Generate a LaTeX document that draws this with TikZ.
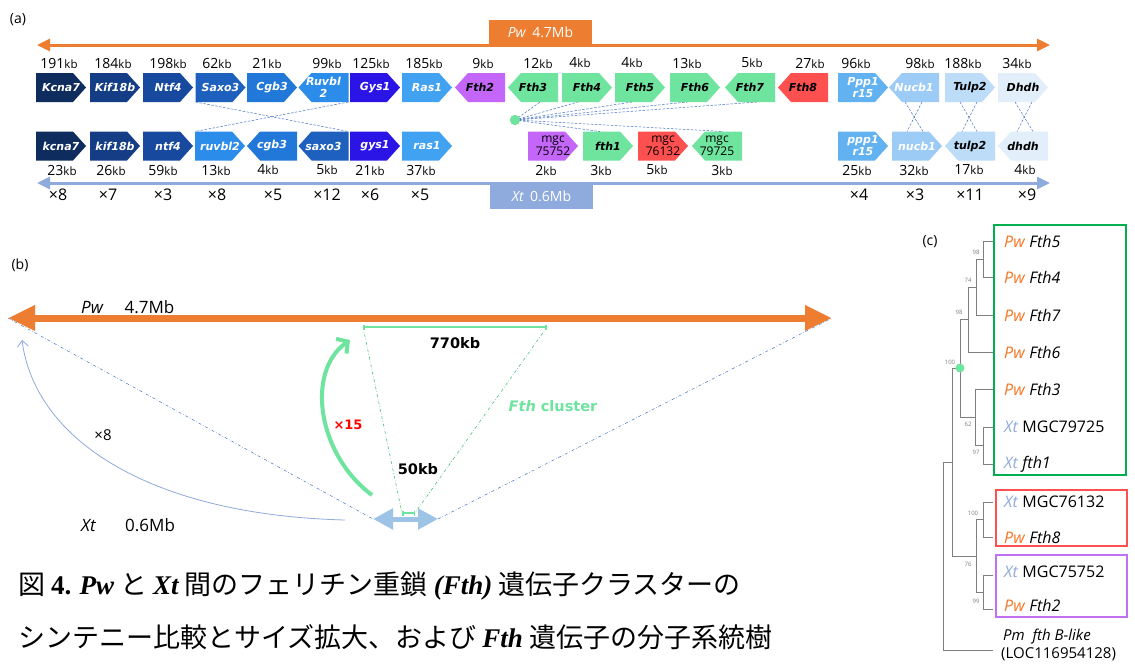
\documentclass[tikz,border=0pt]{standalone}
\usepackage{fontspec}
\setmainfont{Open Sans}
\newfontfamily\genefont{DejaVu Sans}
\newfontfamily\cjkfont{Noto Sans CJK JP}
\newfontfamily\tnrfont{Liberation Serif}
\usetikzlibrary{arrows.meta,calc}
\definecolor{orng}{HTML}{ED7D31}
\definecolor{xtb}{HTML}{8FAADC}
\definecolor{cA}{HTML}{0E2D5E}
\definecolor{cB}{HTML}{143D85}
\definecolor{cC}{HTML}{174A9E}
\definecolor{cD}{HTML}{1E60BE}
\definecolor{cE}{HTML}{2278D8}
\definecolor{cF}{HTML}{2C8CEA}
\definecolor{cG}{HTML}{2A14E6}
\definecolor{cH}{HTML}{42A2F2}
\definecolor{cI}{HTML}{62B2F2}
\definecolor{cJ}{HTML}{9CCBF6}
\definecolor{cK}{HTML}{BCDCF8}
\definecolor{cL}{HTML}{E2EFFB}
\definecolor{gpur}{HTML}{C566FA}
\definecolor{ggrn}{HTML}{6EE49E}
\definecolor{dgrn}{HTML}{4CC47E}
\definecolor{gred}{HTML}{FF5050}
\definecolor{bgrn}{HTML}{00B050}
\definecolor{lblue}{HTML}{9DC3E6}
\definecolor{dblue}{HTML}{4472C4}
\definecolor{pwo}{HTML}{F5741F}
\definecolor{grayline}{HTML}{7F7F7F}
\definecolor{ppur}{HTML}{C070F0}
\newcommand\kbu{{\fontsize{11.5}{12}\selectfont kb}}
\newcommand\PWt{\textcolor{pwo}{\textit{Pw}}}
\newcommand\XTt{\textcolor{xtb}{\textit{Xt}}}
\newcommand\genefill[4]{\fill[#4, shift={(#1,#2)}, xscale=#3] (-25,-14.5) -- (12,-14.5) -- (25,0) -- (12,14.5) -- (-25,14.5) -- cycle;}
\tikzset{
 gene/.style={rectangle, minimum width=50pt, minimum height=29pt, inner sep=0pt, outer sep=0pt, align=center,
   font=\genefont\bfseries\itshape\fontsize{11}{12}\selectfont},
 mgcg/.style={gene, font=\fontsize{12}{12.5}\selectfont},
 kbl/.style={font=\fontsize{14}{16}\selectfont, inner sep=0pt},
 mult/.style={font=\fontsize{16}{18}\selectfont, inner sep=0pt},
 syn/.style={dblue, line width=0.5pt, dash pattern=on 2.5pt off 1.5pt},
 tree/.style={grayline, line width=1pt},
 boot/.style={font=\fontsize{6}{7}\selectfont, text=grayline, inner sep=0pt},
 leaf/.style={anchor=west, inner sep=0pt, font=\fontsize{16}{18}\selectfont},
 boldlab/.style={font=\genefont\bfseries\fontsize{14.5}{16}\selectfont, inner sep=0pt},
 plab/.style={font=\fontsize{14}{16}\selectfont, inner sep=0pt},
 caption/.style={anchor=west, inner sep=0pt, font=\cjkfont\fontsize{27}{30}\selectfont}
}
\begin{document}
\begin{tikzpicture}[x=1pt,y=-1pt]
\fill[white] (0,0) rectangle (1135,664);
\useasboundingbox (0,0) rectangle (1135,664);
% ================= panel (a)
\node[plab] (la) at (18,20) {(a)};
\coordinate (oL) at (37,45);
\coordinate (oR) at (1050,45);
\draw[orng, line width=3pt, {Triangle[length=13pt,width=12pt]}-{Triangle[length=13pt,width=12pt]}] (oL) -- (oR);
\node[fill=orng, text=white, minimum width=103pt, minimum height=25pt, inner sep=0pt, font=\fontsize{14}{16}\selectfont] (pwbox) at (540.5,32.5) {\textit{Pw}\hspace{6pt}4.7Mb};
\coordinate (xL) at (37,183);
\coordinate (xR) at (1050,183);
\draw[xtb, line width=3pt, {Triangle[length=13pt,width=12pt]}-{Triangle[length=13pt,width=12pt]}] (xL) -- (xR);
\node[fill=xtb, text=white, minimum width=103pt, minimum height=26pt, inner sep=0pt, font=\fontsize{14}{16}\selectfont] (xtbox) at (541.5,196) {\textit{Xt}\hspace{6pt}0.6Mb};
% top genes
\foreach \n/\x/\d/\c/\t/\lab in {
 TKcna7/61/1/cA/white/Kcna7, TKif18b/115/1/cB/white/Kif18b, TNtf4/168/1/cC/white/Ntf4,
 TSaxo3/220.5/1/cD/white/Saxo3, TCgb3/272/1/cE/white/Cgb3, TRuvbl2/323.5/-1/cF/white/{Ruvbl\\2},
 TGys1/375/1/cG/white/Gys1, TRas1/427/1/cH/white/Ras1, TFth2/480/-1/gpur/black/Fth2,
 TFth3/533/-1/ggrn/black/Fth3, TFth4/587/1/ggrn/black/Fth4, TFth5/640/1/ggrn/black/Fth5,
 TFth6/695/1/ggrn/black/Fth6, TFth7/750/-1/ggrn/black/Fth7, TFth8/803/-1/gred/black/Fth8,
 TPpp/863/1/cI/white/{Ppp1\\r15}, TNucb1/914/-1/cJ/white/Nucb1, TTulp2/970/1/cK/black/Tulp2,
 TDhdh/1023/1/cL/black/Dhdh}
 {\genefill{\x}{87.5}{\d}{\c}
  \node[gene, text=\t] (\n) at (\x,87.5) {\lab};}
% bottom genes
\foreach \n/\x/\d/\c/\t/\lab in {
 Bkcna7/61/1/cA/white/kcna7, Bkif18b/115/1/cB/white/kif18b, Bntf4/168/1/cC/white/ntf4,
 Bruvbl2/220/1/cF/white/ruvbl2, Bcgb3/272/-1/cE/white/cgb3, Bsaxo3/323.5/-1/cD/white/saxo3,
 Bgys1/375/1/cG/white/gys1, Bras1/427/1/cH/white/ras1, Bfth1/608/1/ggrn/black/fth1,
 Bppp/863/1/cI/white/{ppp1\\r15}, Bnucb1/917/1/cJ/white/nucb1, Btulp2/970/-1/cK/black/tulp2,
 Bdhdh/1023/-1/cL/black/dhdh}
 {\genefill{\x}{146}{\d}{\c}
  \node[gene, text=\t] (\n) at (\x,146) {\lab};}
\foreach \n/\x/\d/\c/\lab in {Bm75752/553/1/gpur/{mgc\\75752}, Bm76132/663/1/gred/{mgc\\76132}, Bm79725/717/-1/ggrn/{mgc\\79725}}
 {\genefill{\x}{146}{\d}{\c}
  \node[mgcg, text=black] (\n) at (\x,146) {\lab};}
% kb labels
\foreach \x/\v [count=\i] in {59/191, 113/184, 168/198, 217/62, 267/21, 327/99, 371/125, 424/185, 483/9, 538/12, 580/4, 632/4, 687/13, 752/5, 810/27, 856/96, 920/98, 963/188, 1017/34}
 \node[kbl] (kt\i) at (\x,63) {\v\kbu};
\foreach \x/\v [count=\i] in {62/23, 111/26, 163/59, 216/13, 268/4, 327/5, 370/21, 421/37, 546/2, 601/3, 657/5, 722/3, 857/25, 914/32, 969/17, 1025/4}
 \node[kbl] (kb\i) at (\x,170) {\v\kbu};
\foreach \x/\v [count=\i] in {58/8, 108/7, 163/3, 217/8, 273/5, 327/12, 370/6, 420/5, 859/4, 915/3, 970/11, 1027/9}
 \node[mult] (mx\i) at (\x,195) {×\v};
% synteny lines
\draw[syn] (TSaxo3.south west) -- (Bsaxo3.north east);
\draw[syn] (TRuvbl2.south east) -- (Bruvbl2.north west);
\node[circle, fill=ggrn, minimum size=10pt, inner sep=0pt] (fdot) at (515,120) {};
\draw[syn] (fdot.center) -- ([xshift=7pt]TFth3.south);
\draw[syn] (fdot.center) -- ([xshift=-9pt]TFth4.south);
\draw[syn] (fdot.center) -- ([xshift=-8pt]TFth5.south);
\draw[syn] (fdot.center) -- ([xshift=-8pt]TFth6.south);
\draw[syn] (fdot.center) -- ([xshift=7pt]TFth7.south);
\draw[syn] (fdot.center) -- ([xshift=-8pt]Bfth1.north);
\draw[syn] (fdot.center) -- ([xshift=6pt]Bm79725.north);
\node[circle, fill=ggrn, minimum size=10pt, inner sep=0pt] (fdot2) at (fdot) {};
\draw[syn] ([xshift=-9pt]TNucb1.south) -- ([xshift=6pt]Bnucb1.north);
\draw[syn] ([xshift=8pt]TNucb1.south) -- ([xshift=-10pt]Bnucb1.north);
\draw[syn] ([xshift=-10pt]TTulp2.south) -- ([xshift=7pt]Btulp2.north);
\draw[syn] ([xshift=7pt]TTulp2.south) -- ([xshift=-8pt]Btulp2.north);
\draw[syn] ([xshift=-8pt]TDhdh.south) -- ([xshift=10pt]Bdhdh.north);
\draw[syn] ([xshift=9pt]TDhdh.south) -- ([xshift=-6pt]Bdhdh.north);
% ================= panel (b)
\node[plab] (lb) at (20,265) {(b)};
\coordinate (bL) at (8,318);
\coordinate (bR) at (832,318);
\coordinate (sL) at (373,519);
\coordinate (sR) at (438,519);
\draw[dblue, line width=0.5pt, dash dot] (bL) -- (sL);
\draw[dblue, line width=0.5pt, dash dot] (sR) -- (bR);
\draw[orng, line width=7pt, {Triangle[length=27pt,width=24pt]}-{Triangle[length=27pt,width=24pt]}] (bL) -- (bR);
\draw[lblue, line width=5pt, {Triangle[length=20pt,width=20pt]}-{Triangle[length=20pt,width=20pt]}] (sL) -- (sR);
\coordinate (gT1) at (363,327);
\coordinate (gT2) at (547,327);
\coordinate (gB1) at (402,513);
\coordinate (gB2) at (415,513);
\draw[dgrn, line width=0.6pt, dash dot] (gT1) -- (gB1);
\draw[dgrn, line width=0.6pt, dash dot] (gT2) -- (gB2);
\draw[ggrn, line width=2pt, {Bar[width=5pt]}-{Bar[width=5pt]}] (gT1) -- (gT2);
\draw[ggrn, line width=1.5pt, {Bar[width=5pt]}-{Bar[width=5pt]}] (gB1) -- (gB2);
\coordinate (c8s) at (345,520);
\coordinate (c8e) at (22,340);
\draw[xtb, line width=0.8pt, -{Straight Barb[length=6pt,width=11pt]}] (c8s) .. controls (150,515) and (35,440) .. (c8e);
\coordinate (c15s) at (372,495);
\coordinate (c15e) at (350,340);
\draw[ggrn, line width=4pt, -{Straight Barb[length=8pt,width=18pt]}] (c15s) .. controls (318,455) and (305,372) .. (c15e);
\node[boldlab] (t770) at (455,343) {770kb};
\node[boldlab] (t50) at (418,469) {50kb};
\node[boldlab, text=ggrn] (tfc) at (553,406) {\textit{Fth} cluster};
\node[font=\genefont\bfseries\fontsize{13}{14}\selectfont, text=red, inner sep=0pt] (t15) at (348,425) {×15};
\node[font=\fontsize{15}{16}\selectfont, inner sep=0pt] (t8) at (103,435) {×8};
\node[anchor=west, inner sep=0pt, font=\fontsize{17}{18}\selectfont] (tpw) at (81,307) {\textit{Pw}\hspace{21pt}4.7Mb};
\node[anchor=west, inner sep=0pt, font=\fontsize{17}{18}\selectfont] (txt) at (81,525) {\textit{Xt}\hspace{29pt}0.6Mb};
% ================= panel (c)
\node[plab] (lc) at (930,242) {(c)};
\draw[bgrn, line width=2.5pt] (994,225) rectangle (1126,475);
\draw[gred, line width=2pt] (996,490) rectangle (1127,546);
\draw[ppur, line width=2pt] (996,555) rectangle (1127,617);
\coordinate (L5) at (993,241);
\coordinate (L4) at (993,277);
\coordinate (L7) at (993,315);
\coordinate (L6) at (993,352);
\coordinate (L3) at (993,389);
\coordinate (L79) at (993,427);
\coordinate (Lf1) at (993,464);
\coordinate (L76) at (993,502);
\coordinate (L8) at (993,537);
\coordinate (L75) at (993,575);
\coordinate (L2) at (993,609);
\coordinate (Lpm) at (993,650);
\coordinate (n98a) at (983,259);
\coordinate (n74) at (976,287);
\coordinate (n98b) at (968,319.5);
\coordinate (n97) at (983,445.5);
\coordinate (n62) at (975,417);
\coordinate (n100) at (960,368);
\coordinate (n100b) at (983,519.5);
\coordinate (n99) at (983,592);
\coordinate (n76) at (976,556);
\coordinate (nout) at (952,462);
\coordinate (nroot) at (943,556);
\draw[tree] (L5) -| (n98a |- L4) -- (L4);
\draw[tree] (n98a) -| (n74 |- L7) -- (L7);
\draw[tree] (n74) -| (n98b |- L6) -- (L6);
\draw[tree] (L79) -| (n97 |- Lf1) -- (Lf1);
\draw[tree] (L3) -| (n62 |- n97) -- (n97);
\draw[tree] (n98b) -| (n100 |- n62) -- (n62);
\draw[tree] (L76) -| (n100b |- L8) -- (L8);
\draw[tree] (L75) -| (n99 |- L2) -- (L2);
\draw[tree] (n100b) -| (n76 |- n99) -- (n99);
\draw[tree] (n100) -| (nout |- n76) -- (n76);
\draw[tree] (nout) -| (nroot |- Lpm) -- (Lpm);
\node[circle, fill=ggrn, minimum size=9pt, inner sep=0pt] (gdot) at (n100) {};
\node[boot] (b1) at (976,252) {98};
\node[boot] (b2) at (968,280) {74};
\node[boot] (b3) at (959,312) {98};
\node[boot] (b4) at (950,362) {100};
\node[boot] (b5) at (968,424) {62};
\node[boot] (b6) at (976,452) {97};
\node[boot] (b7) at (973,513) {100};
\node[boot] (b8) at (968,564) {76};
\node[boot] (b9) at (976,601) {99};
\node[leaf] (f5) at (1004,241) {\PWt\ \textit{Fth5}};
\node[leaf] (f4) at (1004,277) {\PWt\ \textit{Fth4}};
\node[leaf] (f7) at (1004,315) {\PWt\ \textit{Fth7}};
\node[leaf] (f6) at (1004,352) {\PWt\ \textit{Fth6}};
\node[leaf] (f3) at (1004,389) {\PWt\ \textit{Fth3}};
\node[leaf] (f79) at (1004,427) {\XTt\ MGC79725};
\node[leaf] (ff1) at (1004,464) {\XTt\ \textit{fth1}};
\node[leaf] (f76) at (1004,502) {\XTt\ MGC76132};
\node[leaf] (f8) at (1004,537) {\PWt\ \textit{Fth8}};
\node[leaf] (f75) at (1004,572) {\XTt\ MGC75752};
\node[leaf] (f2) at (1004,605) {\PWt\ \textit{Fth2}};
\node[leaf, font=\fontsize{15}{17}\selectfont] (fpm) at (1003,637) {\textit{Pm\ \ fth B-like}};
\node[leaf, font=\fontsize{15}{17}\selectfont] (floc) at (1001,654) {(LOC116954128)};
% ================= caption
\node[caption] (cap1) at (18,586) {図 {\tnrfont\bfseries 4.} {\tnrfont\bfseries\itshape Pw} と {\tnrfont\bfseries\itshape Xt} 間のフェリチン重鎖 {\tnrfont\bfseries\itshape (Fth)} 遺伝子クラスターの};
\node[caption] (cap2) at (18,637) {シンテニー比較とサイズ拡大、および {\tnrfont\bfseries\itshape Fth} 遺伝子の分子系統樹};
\end{tikzpicture}
\end{document}
